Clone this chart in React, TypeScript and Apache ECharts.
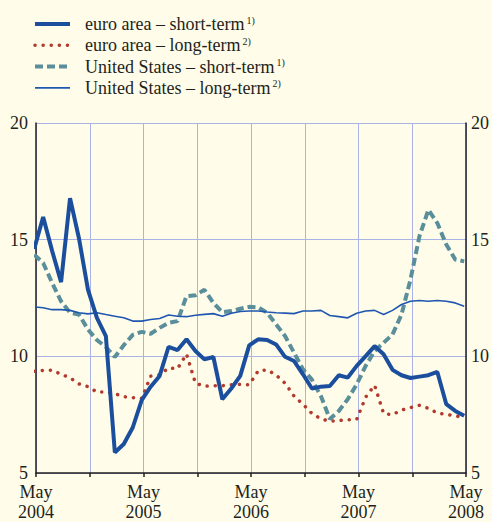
import React, { useEffect, useRef } from "react";
import * as echarts from "echarts";

// monthly observations, April 2004 to April 2008 (plotted at month end)
const euroShort = [14.6, 15.97, 14.52, 13.18, 16.78, 15.05, 12.86, 11.65, 10.87, 5.88, 6.24, 6.95, 8.12, 8.7, 9.16, 10.41, 10.27, 10.73, 10.23, 9.87, 9.97, 8.16, 8.62, 9.16, 10.47, 10.73, 10.7, 10.51, 9.98, 9.8, 9.23, 8.62, 8.7, 8.73, 9.19, 9.09, 9.59, 10.01, 10.44, 10.09, 9.42, 9.19, 9.07, 9.13, 9.19, 9.33, 7.95, 7.66, 7.45];
const euroLong = [9.36, 9.4, 9.41, 9.23, 9.08, 8.82, 8.7, 8.47, 8.47, 8.4, 8.27, 8.23, 8.2, 9.15, 9.2, 9.5, 9.47, 10.1, 8.85, 8.72, 8.74, 8.74, 8.78, 8.8, 8.78, 9.38, 9.42, 9.2, 8.85, 8.3, 7.95, 7.55, 7.32, 7.22, 7.25, 7.28, 7.3, 8.25, 8.76, 7.55, 7.5, 7.7, 7.8, 7.9, 7.77, 7.57, 7.51, 7.45, 7.37];
const usShort = [14.36, 14.0, 13.15, 12.36, 11.87, 11.79, 11.15, 10.7, 10.4, 9.97, 10.48, 10.92, 11.05, 10.97, 11.22, 11.44, 11.51, 12.58, 12.62, 12.85, 12.29, 11.89, 11.94, 12.04, 12.12, 12.1, 11.87, 11.37, 10.87, 10.16, 9.44, 9.0, 8.3, 7.31, 7.66, 8.16, 8.8, 9.59, 10.23, 10.58, 10.94, 11.79, 13.29, 15.14, 16.28, 15.71, 14.79, 14.15, 14.07];
const usLong = [12.12, 12.08, 12.0, 12.0, 11.97, 11.87, 11.82, 11.87, 11.79, 11.72, 11.65, 11.51, 11.51, 11.58, 11.62, 11.77, 11.72, 11.7, 11.76, 11.8, 11.83, 11.72, 11.85, 11.92, 11.94, 11.94, 11.9, 11.87, 11.85, 11.83, 11.94, 11.94, 11.97, 11.75, 11.7, 11.65, 11.85, 11.94, 11.97, 11.79, 11.97, 12.22, 12.36, 12.39, 12.36, 12.39, 12.36, 12.29, 12.15];

const seriesNames = [
  "euro area – short-term",
  "euro area – long-term",
  "United States – short-term",
  "United States – long-term",
];
const footnotes = ["1)", "2)", "1)", "2)"];
const startYear = 2004;
const yTicks = [5, 10, 15, 20];

const FONT = "'Liberation Serif', 'Times New Roman', serif";

const STYLES: Record<string, any> = {
  [seriesNames[0]]: { color: "#1b4f9e", width: 4 },
  [seriesNames[1]]: { color: "#b23a2e", width: 3.5, type: [0.1, 8], cap: "round" },
  [seriesNames[2]]: { color: "#5a8e9b", width: 4, type: [8, 4] },
  [seriesNames[3]]: { color: "#1f56b0", width: 1.6 },
};

// months since May 2004 of each observation (end of month)
const toPairs = (vals: number[]) => vals.map((v, i) => [i - 0.2, v]);

export default function App() {
  const ref = useRef<HTMLDivElement>(null);
  useEffect(() => {
    if (!ref.current) return;
    const chart = echarts.init(ref.current, null, { renderer: "svg" });
    const axisLabelStyle = { color: "#231f20", fontFamily: FONT, fontSize: 18 };
    const mkSeries = (name: string, vals: number[], z: number) => ({
      name,
      type: "line",
      data: toPairs(vals),
      symbol: "none",
      lineStyle: { ...STYLES[name] },
      itemStyle: { color: STYLES[name].color },
      z,
    });
    chart.setOption({
      animation: false,
      backgroundColor: "#fffde9",
      textStyle: { fontFamily: FONT },
      legend: {
        orient: "vertical",
        left: 33,
        top: 15,
        padding: 0,
        itemWidth: 35,
        itemHeight: 12,
        itemGap: 3.3,
        itemStyle: { opacity: 0 },
        data: seriesNames.map((name) => ({ name, lineStyle: { ...STYLES[name] } })),
        formatter: (name: string) => {
          const idx = seriesNames.indexOf(name);
          return `{t|${name}}{s|${footnotes[idx]}}`;
        },
        textStyle: {
          color: "#231f20",
          fontFamily: FONT,
          fontSize: 18,
          padding: [0, 0, 0, 10],
          rich: {
            t: { fontFamily: FONT, fontSize: 18, color: "#231f20", lineHeight: 18 },
            s: { fontFamily: FONT, fontSize: 10, color: "#231f20", verticalAlign: "top", lineHeight: 18, padding: [0, 0, 0, 2] },
          },
        },
      },
      grid: { left: 36, right: 23, top: 123, bottom: 48 },
      xAxis: {
        type: "value",
        min: 0,
        max: 48,
        interval: 6,
        axisLine: { show: true, lineStyle: { color: "#231f20", width: 1.5 } },
        axisTick: { show: true, length: 4, lineStyle: { color: "#231f20", width: 1.5 } },
        splitLine: { show: true, lineStyle: { color: "#aab3e6", width: 1 } },
        axisLabel: {
          ...axisLabelStyle,
          margin: 9,
          lineHeight: 20,
          showMinLabel: true,
          showMaxLabel: true,
          formatter: (v: number) => (v % 12 === 0 ? `May\n${startYear + v / 12}` : ""),
        },
      },
      yAxis: [
        {
          type: "value",
          min: yTicks[0],
          max: yTicks[yTicks.length - 1],
          interval: 5,
          position: "left",
          axisLine: { show: true, lineStyle: { color: "#231f20", width: 1.5 } },
          axisTick: { show: false },
          splitLine: { show: true, lineStyle: { color: "#aab3e6", width: 1 } },
          axisLabel: { ...axisLabelStyle, margin: 8 },
        },
        {
          type: "value",
          min: yTicks[0],
          max: yTicks[yTicks.length - 1],
          interval: 5,
          position: "right",
          axisLine: { show: true, lineStyle: { color: "#231f20", width: 1.5 } },
          axisTick: { show: false },
          splitLine: { show: false },
          axisLabel: { ...axisLabelStyle, margin: 5 },
        },
      ],
      series: [
        mkSeries(seriesNames[2], usShort, 2),
        mkSeries(seriesNames[3], usLong, 3),
        mkSeries(seriesNames[1], euroLong, 4),
        mkSeries(seriesNames[0], euroShort, 5),
      ],
    });
    return () => chart.dispose();
  }, []);
  return (
    <div
      ref={ref}
      style={{ position: "fixed", left: 0, top: 0, width: 492, height: 522 }}
    />
  );
}
